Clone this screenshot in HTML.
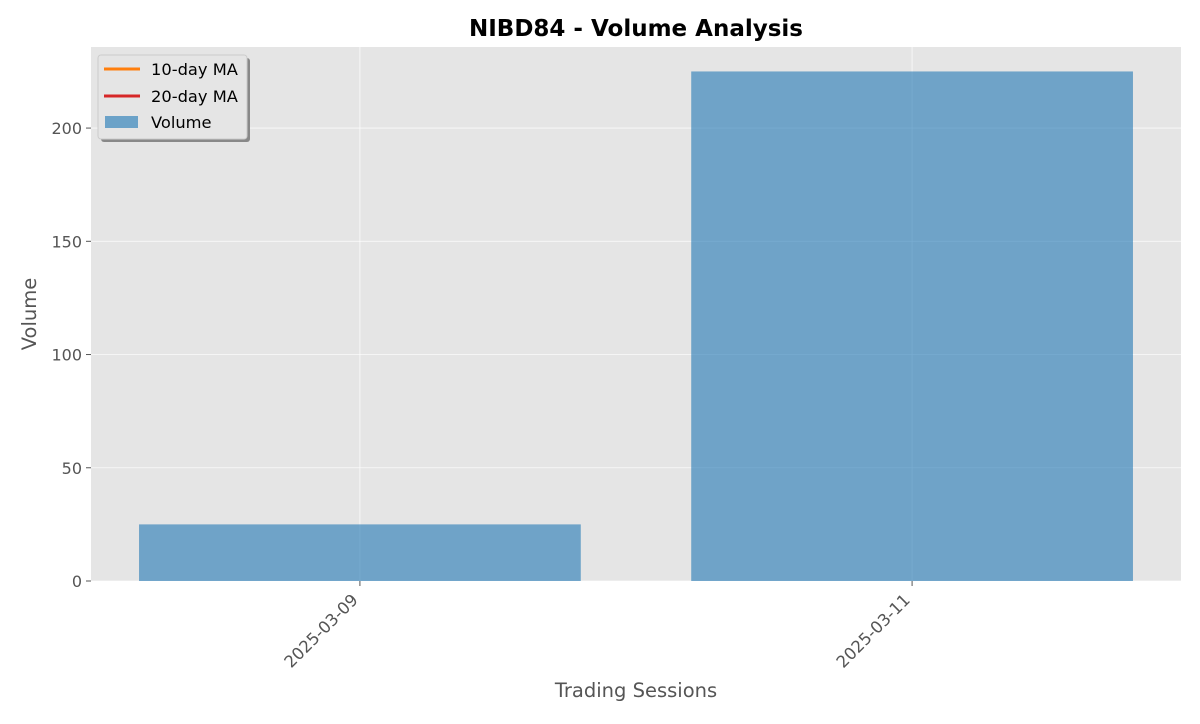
<!DOCTYPE html>
<html><head><meta charset="utf-8"><style>
body{margin:0;background:#fff;font-family:"DejaVu Sans","Liberation Sans",sans-serif}
</style></head><body>
<svg id="c" width="1200" height="720" xmlns="http://www.w3.org/2000/svg">
<rect width="1200" height="720" fill="#fff"/>
<text x="636" y="36" text-anchor="middle" font-size="23" font-weight="bold" fill="#000">NIBD84 - Volume Analysis</text>
<rect x="91" y="47" width="1090" height="534" fill="#e5e5e5"/>
<g id="grid"></g><g id="bars"></g><g id="axes"></g>
<text x="636" y="697" text-anchor="middle" font-size="19.5" fill="#555">Trading Sessions</text>
<text transform="translate(36,314) rotate(-90)" text-anchor="middle" font-size="19.5" fill="#555">Volume</text>
<g>
<rect x="101" y="58" width="149" height="84" rx="3" fill="#888"/>
<rect x="98" y="55" width="149" height="84" rx="3" fill="#e5e5e5" stroke="#ccc"/>
<line x1="104" y1="69" x2="140" y2="69" stroke="#ff7f0e" stroke-width="3"/>
<text x="151" y="75" font-size="16.3">10-day MA</text>
<line x1="104" y1="96" x2="140" y2="96" stroke="#d62728" stroke-width="3"/>
<text x="151" y="102" font-size="16.3">20-day MA</text>
<rect x="105" y="116" width="33" height="12" fill="#6ba2c8"/>
<text x="151" y="128" font-size="16.3">Volume</text>
</g>
</svg>
<script>
const categories=["2025-03-09","2025-03-11"];
const volumes=[25,225];
const yTicks=[0,50,100,150,200];
const NS="http://www.w3.org/2000/svg";
const L=91,R=1181,T=47,B=581,xmin=-0.487,xmax=1.487,ymax=235.8;
const xs=i=>L+(i-xmin)/(xmax-xmin)*(R-L);
const ys=v=>B-v/ymax*(B-T);
const bw=0.8*(R-L)/(xmax-xmin);
function mk(t,a,p){const e=document.createElementNS(NS,t);for(const k in a)e.setAttribute(k,a[k]);document.getElementById(p).appendChild(e);return e;}
yTicks.forEach(v=>{
 mk('line',{x1:L,x2:R,y1:ys(v),y2:ys(v),stroke:'#fff','stroke-width':0.8,'stroke-opacity':0.8},'grid');
 mk('line',{x1:L-5,x2:L,y1:ys(v),y2:ys(v),stroke:'#555'},'axes');
 const t=mk('text',{x:L-9,y:ys(v)+6,'text-anchor':'end','font-size':16,fill:'#555'},'axes');t.textContent=v;
 
 
});
categories.forEach((c,i)=>{
 mk('line',{x1:xs(i),x2:xs(i),y1:T,y2:B,stroke:'#fff','stroke-width':0.8,'stroke-opacity':0.8},'grid');
 const b=mk('rect',{x:xs(i)-bw/2,y:ys(volumes[i]),width:bw,height:B-ys(volumes[i]),fill:'#1f77b4','fill-opacity':0.6},'bars');
 
 
 mk('line',{x1:xs(i),x2:xs(i),y1:B,y2:B+5,stroke:'#555'},'axes');
 const ax=xs(i)-1, ay=B+20;
 const t=mk('text',{x:ax,y:ay,'text-anchor':'end','font-size':16.5,fill:'#555',transform:`rotate(-45 ${ax} ${ay})`},'axes');t.textContent=c;
 
 
});
</script>
</body></html>
